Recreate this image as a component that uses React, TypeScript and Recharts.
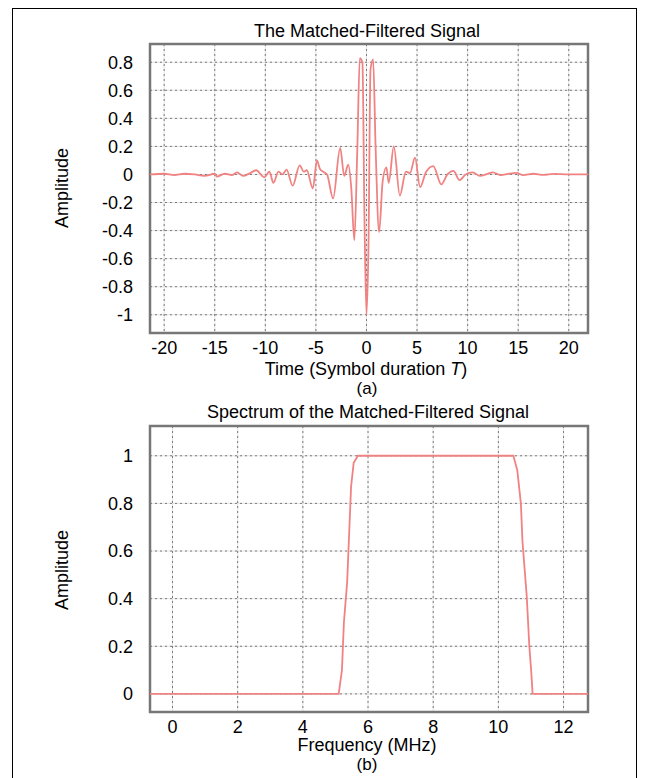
import { LineChart, Line, XAxis, YAxis, CartesianGrid, ReferenceArea } from "recharts";

// (a) matched-filtered signal, time in symbol durations
const signalT = [
  -21.4, -20, -19, -18, -17, -16, -15, -14.8, -14, -13.3, -12.8, -12.2, -11.5, -10.9, -10.1, -9.6, -9.2, -8.7, -8.3,
  -7.9, -7.3, -6.6, -6.2, -5.9, -5.3, -4.9, -4.6, -4.3, -3.9, -3.3, -2.6, -2.2, -1.8, -1.5, -1.2, -0.9, -0.66, -0.4,
  -0.2, 0, 0.2, 0.4, 0.66, 0.9, 1.25, 1.6, 1.97, 2.2, 2.7, 3.3, 3.9, 4.3, 4.8, 5.3, 5.9, 6.6, 7.4, 8.0, 8.6, 9.2, 9.8,
  10.5, 11.2, 12, 12.5, 13.3, 14, 14.8, 15.5, 16.5, 17.5, 18.5, 20, 21.9,
];
const signalA = [
  0, 0.005, -0.005, 0.005, 0, -0.01, 0.005, -0.015, 0.005, -0.005, 0.015, -0.01, 0.01, 0.03, -0.02, 0.02, -0.06, 0.02, 0,
  0.035, -0.08, 0.065, 0.02, 0.03, -0.1, 0.1, 0.04, 0.02, 0, -0.17, 0.19, -0.01, 0.07, -0.1, -0.47, 0.2, 0.83, 0.8,
  -0.3, -1.0, -0.5, 0.75, 0.82, 0.2, -0.41, -0.05, 0.05, -0.06, 0.2, -0.15, 0.02, 0.01, 0.12, -0.09, 0.02, 0.06, -0.07, 0,
  0.025, -0.04, 0, 0.015, -0.01, 0.005, 0.015, -0.005, 0.005, 0.012, -0.005, 0.005, -0.003, 0.004, 0, 0,
];
const timeTicks = [-20, -15, -10, -5, 0, 5, 10, 15, 20];
const ampTicksA = [-1, -0.8, -0.6, -0.4, -0.2, 0, 0.2, 0.4, 0.6, 0.8];

// (b) spectrum
const freqMHz = [-0.69, 5.1, 5.2, 5.26, 5.36, 5.48, 5.56, 5.69, 10.46, 10.58, 10.69, 10.74, 10.87, 10.95, 11.01, 11.05, 12.75];
const specAmp = [0, 0, 0.1, 0.3, 0.47, 0.87, 0.97, 1, 1, 0.94, 0.8, 0.64, 0.41, 0.2, 0.09, 0, 0];
const freqTicks = [0, 2, 4, 6, 8, 10, 12];
const ampTicksB = [0, 0.2, 0.4, 0.6, 0.8, 1];

const font = "'Liberation Sans', Arial, sans-serif";
const lineColor = "#f08282";
const tickStyle = { fontSize: 18, fill: "#000", fontFamily: font };

const signalData = signalT.map((t, i) => ({ t, a: signalA[i] }));
const specData = freqMHz.map((f, i) => ({ f, a: specAmp[i] }));

function Txt({ x, y, children, rotate, size = 18 }: { x: number; y: number; children: any; rotate?: boolean; size?: number }) {
  return (
    <div
      style={{
        position: "absolute",
        left: x,
        top: y,
        transform: `translate(-50%, -50%)${rotate ? " rotate(-90deg)" : ""}`,
        whiteSpace: "nowrap",
        textAlign: "center",
        fontFamily: font,
        fontSize: size,
        color: "#000",
        lineHeight: 1,
      }}
    >
      {children}
    </div>
  );
}

function Panel({ data, xKey, xDomain, yDomain, xTicks, yTicks, bottom, curve }: any) {
  return (
    <LineChart width={600} height={360} data={data} margin={{ top: 36, right: 20, left: 82, bottom }}>
      <CartesianGrid stroke="#e2e2e2" />
      <CartesianGrid stroke="#7a7a7a" strokeDasharray="2 3" />
      <XAxis
        dataKey={xKey}
        type="number"
        domain={xDomain}
        ticks={xTicks}
        allowDataOverflow
        tickLine={false}
        axisLine={false}
        tickSize={0}
        tickMargin={8}
        height={30}
        tick={tickStyle}
      />
      <YAxis
        type="number"
        domain={yDomain}
        ticks={yTicks}
        allowDataOverflow
        tickLine={false}
        axisLine={false}
        tickSize={0}
        tickMargin={17}
        width={60}
        tick={tickStyle}
        tickFormatter={(v: number) => String(v)}
      />
      <ReferenceArea
        x1={xDomain[0]}
        x2={xDomain[1]}
        y1={yDomain[0]}
        y2={yDomain[1]}
        fill="none"
        fillOpacity={0}
        stroke="#777"
        strokeWidth={2.5}
      />
      <Line type={curve} dataKey="a" stroke={lineColor} strokeWidth={1.8} dot={false} isAnimationActive={false} />
    </LineChart>
  );
}

export default function App() {
  return (
    <div style={{ position: "relative", width: 631, height: 770, overflow: "hidden" }}>
      <div
        style={{
          position: "absolute",
          left: 4,
          top: 0,
          width: 625,
          height: 790,
          border: "1px solid #000",
          boxSizing: "border-box",
        }}
      />
      <div style={{ position: "absolute", left: 0, top: 0 }}>
        <Panel
          data={signalData}
          xKey="t"
          xDomain={[-21.4, 21.9]}
          yDomain={[-1.13, 0.93]}
          xTicks={timeTicks}
          yTicks={ampTicksA}
          bottom={5}
          curve="monotone"
        />
      </div>
      <div style={{ position: "absolute", left: 0, top: 382 }}>
        <Panel
          data={specData}
          xKey="f"
          xDomain={[-0.69, 12.75]}
          yDomain={[-0.076, 1.125]}
          xTicks={freqTicks}
          yTicks={ampTicksB}
          bottom={8}
          curve="linear"
        />
      </div>
      <Txt x={359} y={23}>The Matched-Filtered Signal</Txt>
      <Txt x={54} y={180} rotate>Amplitude</Txt>
      <Txt x={358} y={361}>
        Time (Symbol duration <i>T</i>)
      </Txt>
      <Txt x={359} y={380} size={17}>(a)</Txt>
      <Txt x={360} y={404}>Spectrum of the Matched-Filtered Signal</Txt>
      <Txt x={54} y={562} rotate>Amplitude</Txt>
      <Txt x={359} y={737}>Frequency (MHz)</Txt>
      <Txt x={359} y={756} size={17}>(b)</Txt>
    </div>
  );
}
